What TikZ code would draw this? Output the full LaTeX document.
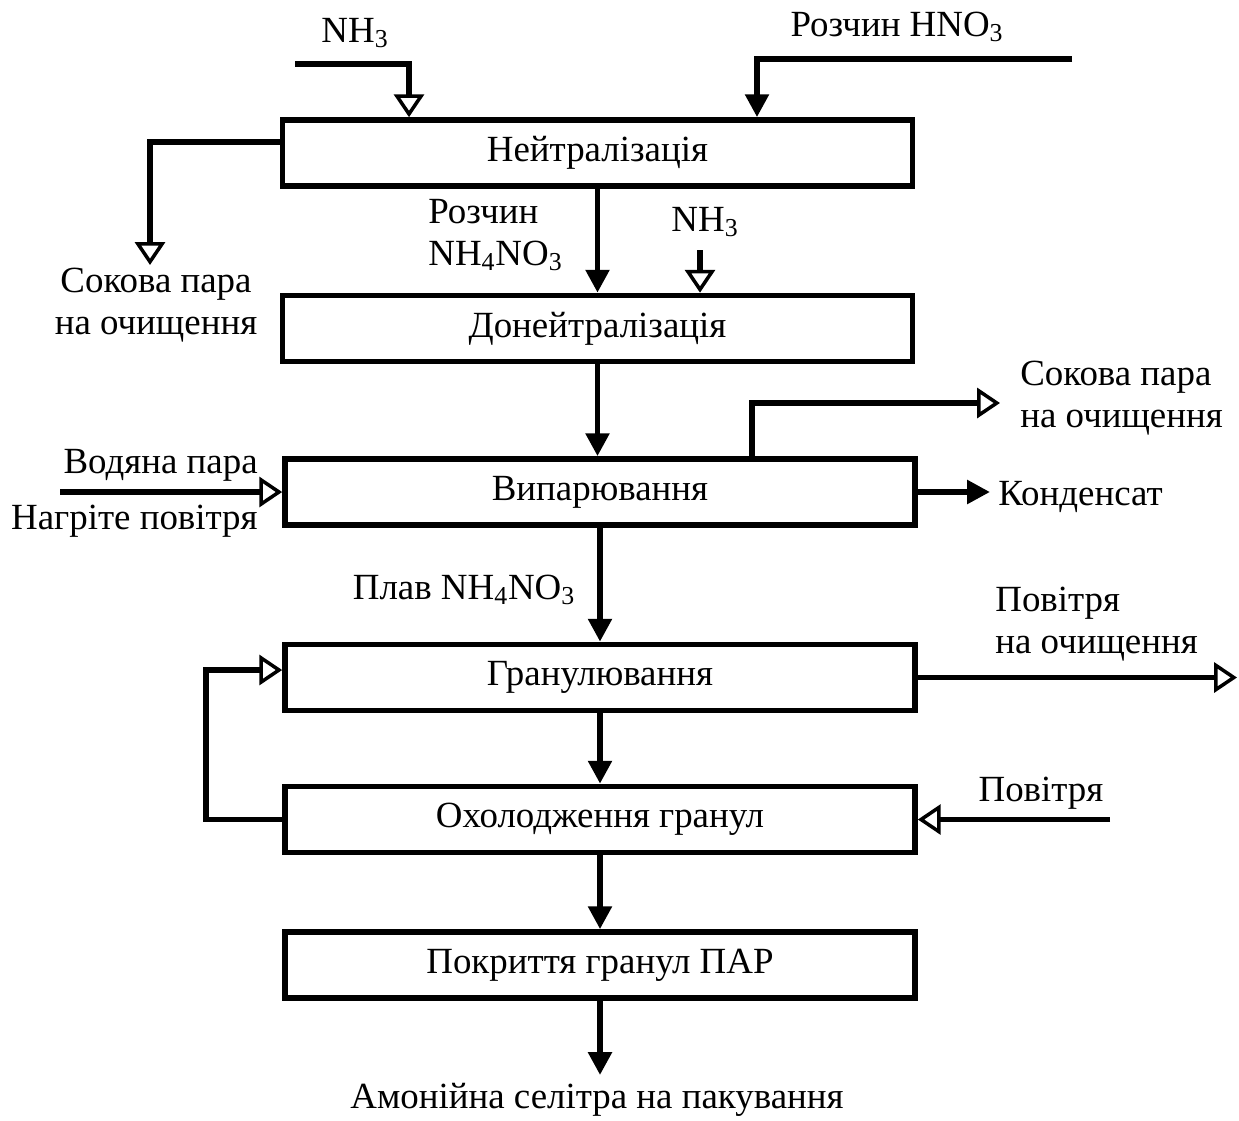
\documentclass[tikz,border=0pt]{standalone}
\usepackage{fontspec}
\setmainfont{Liberation Serif}
\usetikzlibrary{arrows.meta, positioning, calc}

\begin{document}
\begin{tikzpicture}[
  stage/.style={draw, line width=3.2pt, minimum width=12.6cm, minimum height=1.32cm, inner sep=0pt, font=\fontsize{21}{24}\selectfont},
  lbl/.style={inner sep=0pt, font=\fontsize{21}{24}\selectfont},
  flow/.style={line width=3.2pt},
  fillflow/.style={flow, -{Triangle[length=13pt, width=13pt]}},
  openflow/.style={flow, -{Triangle[open, line width=2pt, length=13pt, width=17pt]}}
]
  \useasboundingbox (0,0) rectangle (24.78,-22.4);

  \node[stage] (neutr) at (11.95, -3.06) {Нейтралізація};
  \node[stage] (donei) at (11.95, -6.57) {Донейтралізація};
  \node[stage] (evap)  at (12.0, -9.84) {Випарювання};
  \node[stage] (gran)  at (12.0, -13.55) {Гранулювання};
  \node[stage] (cool)  at (12.0, -16.39) {Охолодження гранул};
  \node[stage] (cover) at (12.0, -19.3) {Покриття гранул ПАР};

  \coordinate (nh3in) at (5.9, -1.28);
  \coordinate (hno3in) at (21.44, -1.18);
  \coordinate (steam1) at (3.0, -5.3);
  \coordinate (nh3b) at (14.0, -5.0);
  \coordinate (steam2) at (20.0, -8.06);
  \coordinate (cond) at (19.8, -9.84);
  \coordinate (heatin) at (1.2, -9.84);
  \coordinate (airout) at (24.74, -13.55);
  \coordinate (airin) at (22.2, -16.39);
  \coordinate (product) at (12.0, -21.5);

  \node[lbl] (nh3lbl) at (7.1, -0.66) {NH\textsubscript{3}};
  \node[lbl] (hno3lbl) at (17.94, -0.54) {Розчин HNO\textsubscript{3}};
  \node[lbl, align=center] (steam1lbl) at (3.12, -6.1) {Сокова пара\\на очищення};
  \node[lbl, align=left, anchor=west] (solnlbl) at (8.56, -4.7) {Розчин\\NH\textsubscript{4}NO\textsubscript{3}};
  \node[lbl] (nh3blbl) at (14.1, -4.44) {NH\textsubscript{3}};
  \node[lbl, align=left, anchor=west] (steam2lbl) at (20.4, -7.96) {Сокова пара\\на очищення};
  \node[lbl, anchor=west] (condlbl) at (19.96, -9.94) {Конденсат};
  \node[lbl, anchor=east] (waterlbl) at (5.16, -9.3) {Водяна пара};
  \node[lbl, anchor=east] (hotairlbl) at (5.16, -10.42) {Нагріте повітря};
  \node[lbl] (meltlbl) at (9.28, -11.8) {Плав NH\textsubscript{4}NO\textsubscript{3}};
  \node[lbl, align=left, anchor=west] (airoutlbl) at (19.9, -12.49) {Повітря\\на очищення};
  \node[lbl] (airinlbl) at (20.82, -15.86) {Повітря};
  \node[lbl] (productlbl) at (11.94, -22.0) {Амонійна селітра на пакування};

  \draw[openflow] (nh3in) -| ([xshift=-3.77cm]neutr.north);
  \draw[fillflow] (hno3in) -| ([xshift=3.19cm]neutr.north);
  \draw[openflow] ([yshift=0.22cm]neutr.west) -| (steam1);
  \draw[fillflow] (neutr) -- (donei);
  \draw[openflow] (nh3b) -- (nh3b |- donei.north);
  \draw[fillflow] (donei) -- (evap.north -| donei);
  \draw[openflow] ([xshift=3.04cm]evap.north) |- (steam2);
  \draw[fillflow] (evap.east) -- (cond);
  \draw[openflow] (heatin) -- (evap.west);
  \draw[fillflow] (evap) -- (gran);
  \draw[openflow] (gran.east) -- (airout);
  \draw[fillflow] (gran) -- (cool);
  \draw[openflow] (cool.west) -- ++(-1.52,0) |- ([yshift=0.15cm]gran.west);
  \draw[openflow] (airin) -- (cool.east);
  \draw[fillflow] (cool) -- (cover);
  \draw[fillflow] (cover) -- (product);
\end{tikzpicture}
\end{document}
